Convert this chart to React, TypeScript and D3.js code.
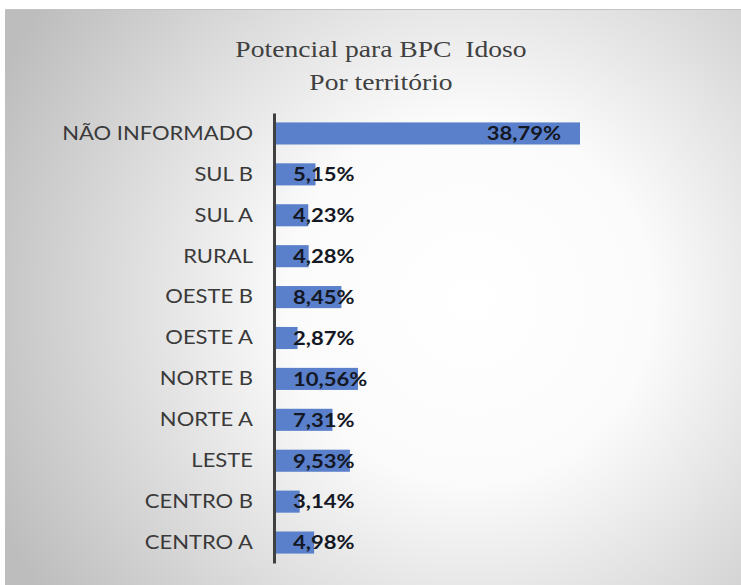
import React, { useRef, useEffect } from 'react';
import * as d3 from 'd3';

// Categories from top to bottom as they appear in the chart
const territorios = [
  'NÃO INFORMADO',
  'SUL B',
  'SUL A',
  'RURAL',
  'OESTE B',
  'OESTE A',
  'NORTE B',
  'NORTE A',
  'LESTE',
  'CENTRO B',
  'CENTRO A',
];
const percentuais = [38.79, 5.15, 4.23, 4.28, 8.45, 2.87, 10.56, 7.31, 9.53, 3.14, 4.98];
const titulo = ['Potencial para BPC  Idoso', 'Por território'];

const W = 741;
const H = 585;

const App = () => {
  const svgRef = useRef<SVGSVGElement>(null);

  useEffect(() => {
    const svg = d3.select(svgRef.current);
    svg.selectAll('*').remove();

    const data = territorios.map((t, i) => ({ t, v: percentuais[i] }));

    // background gradient
    const defs = svg.append('defs');
    const grad = defs
      .append('radialGradient')
      .attr('id', 'bg')
      .attr('gradientUnits', 'userSpaceOnUse')
      .attr('cx', 470)
      .attr('cy', 300)
      .attr('r', 520);
    grad.append('stop').attr('offset', '0%').attr('stop-color', '#ffffff');
    grad.append('stop').attr('offset', '35%').attr('stop-color', '#fbfbfb');
    grad.append('stop').attr('offset', '100%').attr('stop-color', '#bdbdbd');

    svg.append('rect').attr('width', W).attr('height', H).attr('fill', '#ffffff');
    svg
      .append('rect')
      .attr('x', 5)
      .attr('y', 9)
      .attr('width', W - 5)
      .attr('height', H - 9)
      .attr('fill', 'url(#bg)');
    svg
      .append('line')
      .attr('x1', 5)
      .attr('x2', W)
      .attr('y1', 9.5)
      .attr('y2', 9.5)
      .attr('stroke', '#c4c4c4');

    // title (the picture is a bit stretched sideways, hence the scale)
    svg
      .append('g')
      .selectAll('text')
      .data(titulo)
      .enter()
      .append('text')
      .attr('transform', (d, i) => `translate(381, ${57 + i * 33}) scale(1.15, 1)`)
      .attr('text-anchor', 'middle')
      .style('white-space', 'pre')
      .style('font-family', '"Liberation Serif", "Times New Roman", serif')
      .style('font-size', '24px')
      .style('fill', '#404040')
      .text((d) => d);

    const margin = { top: 113, left: 274 };
    const plotH = 450;

    const x = d3.scaleLinear().domain([0, 38.79]).range([0, 305]);
    const y = d3
      .scaleBand()
      .domain(territorios)
      .range([0, plotH])
      .paddingInner(0.46)
      .paddingOuter(0.23);

    const g = svg.append('g').attr('transform', `translate(${margin.left}, ${margin.top})`);

    g.selectAll('rect.bar')
      .data(data)
      .enter()
      .append('rect')
      .attr('class', 'bar')
      .attr('x', 1)
      .attr('y', (d) => y(d.t)!)
      .attr('width', (d) => x(d.v))
      .attr('height', y.bandwidth())
      .attr('fill', '#5b80cb');

    // value labels: inside end for long bars, from the base for short ones
    g.selectAll('text.val')
      .data(data)
      .enter()
      .append('text')
      .attr('class', 'val')
      .attr(
        'transform',
        (d) =>
          `translate(${d.v > 15 ? x(d.v) - 18 : 19}, ${y(d.t)! + y.bandwidth() / 2}) scale(1.16, 1)`
      )
      .attr('dy', '0.36em')
      .attr('text-anchor', (d) => (d.v > 15 ? 'end' : 'start'))
      .style('font-family', 'Lato, "Open Sans", sans-serif')
      .style('font-weight', 'bold')
      .style('font-size', '19px')
      .style('fill', '#141824')
      .text((d) => d3.format('.2f')(d.v).replace('.', ',') + '%');

    // category axis
    const yAxis = g.append('g').call(d3.axisLeft(y).tickSize(0));
    yAxis.select('.domain').attr('stroke', '#404040').attr('stroke-width', 3);
    yAxis
      .selectAll('text')
      .attr('x', 0)
      .attr('transform', 'translate(-21, 0) scale(1.1, 1)')
      .style('font-family', 'Lato, "Open Sans", sans-serif')
      .style('font-size', '20px')
      .style('fill', '#3a3a3a');
  }, []);

  return (
    <svg
      ref={svgRef}
      width={W}
      height={H}
      style={{ position: 'absolute', top: 0, left: 0 }}
    ></svg>
  );
};

export default App;
